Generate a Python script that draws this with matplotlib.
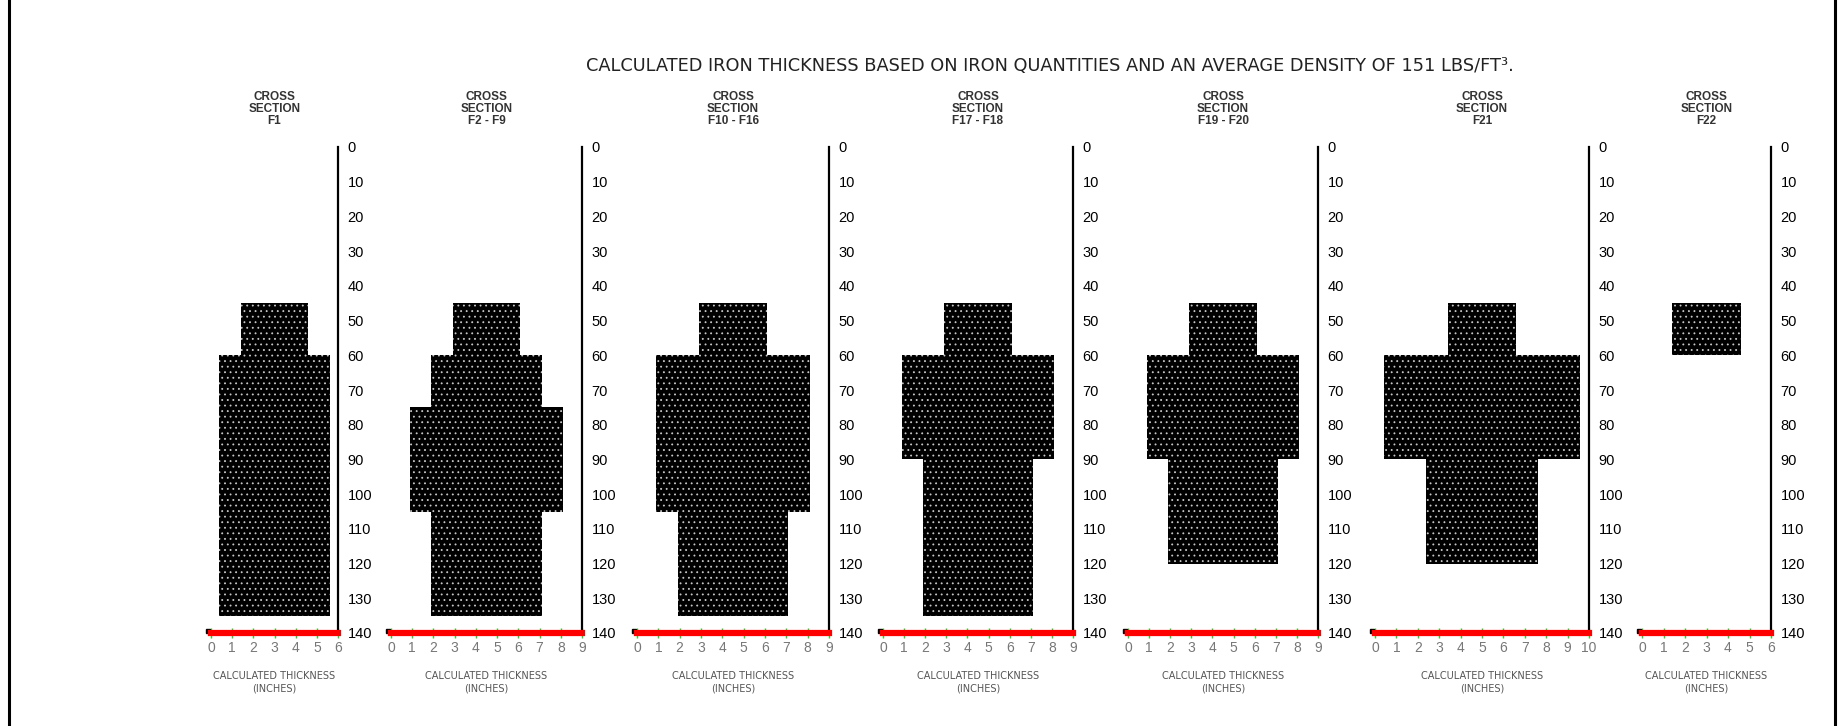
import matplotlib
matplotlib.use("Agg")
import matplotlib.pyplot as plt
from matplotlib.lines import Line2D

# --- data ---
sections = ["F1", "F2 - F9", "F10 - F16", "F17 - F18", "F19 - F20", "F21", "F22"]
axis_max = [6, 9, 9, 9, 9, 10, 6]          # thickness scale (inches) per section
depth_ticks = list(range(0, 141, 10))

# layers: depth from / depth to / calculated thickness (inches)
f1_from, f1_to, f1_thk = [45, 60], [60, 135], [3.2, 5.2]
f2_from, f2_to, f2_thk = [45, 60, 75, 105], [60, 75, 105, 135], [3.2, 5.2, 7.2, 5.2]
f10_from, f10_to, f10_thk = [45, 60, 105], [60, 105, 135], [3.2, 7.2, 5.2]
f17_from, f17_to, f17_thk = [45, 60, 90], [60, 90, 135], [3.2, 7.2, 5.2]
f19_from, f19_to, f19_thk = [45, 60, 90], [60, 90, 120], [3.2, 7.2, 5.2]
f21_from, f21_to, f21_thk = [45, 60, 90], [60, 90, 120], [3.2, 9.2, 5.2]
f22_from, f22_to, f22_thk = [45], [60], [3.2]

layers = [
    (f1_from, f1_to, f1_thk),
    (f2_from, f2_to, f2_thk),
    (f10_from, f10_to, f10_thk),
    (f17_from, f17_to, f17_thk),
    (f19_from, f19_to, f19_thk),
    (f21_from, f21_to, f21_thk),
    (f22_from, f22_to, f22_thk),
]

title = "CALCULATED IRON THICKNESS BASED ON IRON QUANTITIES AND AN AVERAGE DENSITY OF 151 LBS/FT\u00b3."

# --- layout (pixels of the 1841x726 picture) ---
W, H = 1841, 726
panel_px = [(211, 338), (391, 582), (637, 829), (883, 1073),
            (1128, 1318), (1375, 1589), (1642, 1771)]
y_top_px, y_bot_px = 147, 633

plt.rcParams['font.family'] = ['Liberation Sans', 'DejaVu Sans']
plt.rcParams['hatch.linewidth'] = 0.6

fig = plt.figure(figsize=(W / 100, H / 100), dpi=100)
fig.patch.set_facecolor("white")

for name, xmax, (d_from, d_to, thk), (x0, x1) in zip(sections, axis_max, layers, panel_px):
    ax = fig.add_axes([x0 / W, 1 - y_bot_px / H, (x1 - x0) / W, (y_bot_px - y_top_px) / H])
    ax.set_xlim(0, xmax)
    ax.set_ylim(140, 0)
    ax.patch.set_visible(False)
    ax.spines['top'].set_visible(False)
    ax.spines['left'].set_visible(False)
    ax.spines['right'].set_color('black')
    ax.spines['right'].set_linewidth(1.6)
    ax.spines['bottom'].set_color('#ff0000')
    ax.spines['bottom'].set_linewidth(4.5)

    ax.yaxis.tick_right()
    ax.set_yticks(depth_ticks)
    ax.tick_params(axis='y', length=0, pad=7, labelsize=10.5, labelcolor='black')
    ax.set_xticks(range(0, xmax + 1))
    ax.tick_params(axis='x', direction='inout', length=7, width=1, color='#33cc33',
                   labelcolor='#777777', labelsize=10, pad=2)

    # iron block, centred on the section
    heights = [b - a for a, b in zip(d_from, d_to)]
    mids = [(a + b) / 2 for a, b in zip(d_from, d_to)]
    lefts = [(xmax - t) / 2 for t in thk]
    ax.barh(mids, thk, height=heights, left=lefts, color='black',
            edgecolor='#c8c8c8', linewidth=0, hatch='...')

    ax.plot([-0.13], [139.3], marker='s', ms=2.5, color='black', clip_on=False)

    tr = ax.get_xaxis_transform()
    ax.text(xmax / 2, 1.078, "CROSS\nSECTION\n" + name, transform=tr, ha='center', va='center',
            fontsize=8.5, fontweight='bold', color='#333333', linespacing=1.0)
    ax.text(xmax / 2, -0.102, "CALCULATED THICKNESS\n(INCHES)", transform=tr, ha='center',
            va='center', fontsize=7, family='DejaVu Sans', color='#555555', linespacing=1.3)

fig.text(1050 / W, 1 - 66 / H, title, ha='center', va='center', fontsize=12.8,
         family='DejaVu Sans', color='#222222')

# page frame
fig.add_artist(Line2D([8.5 / W] * 2, [0, 1], color='black', lw=2.2))
fig.add_artist(Line2D([1834.5 / W] * 2, [0, 1], color='black', lw=2.2))

fig.savefig("out.png", dpi=100, facecolor="white")
